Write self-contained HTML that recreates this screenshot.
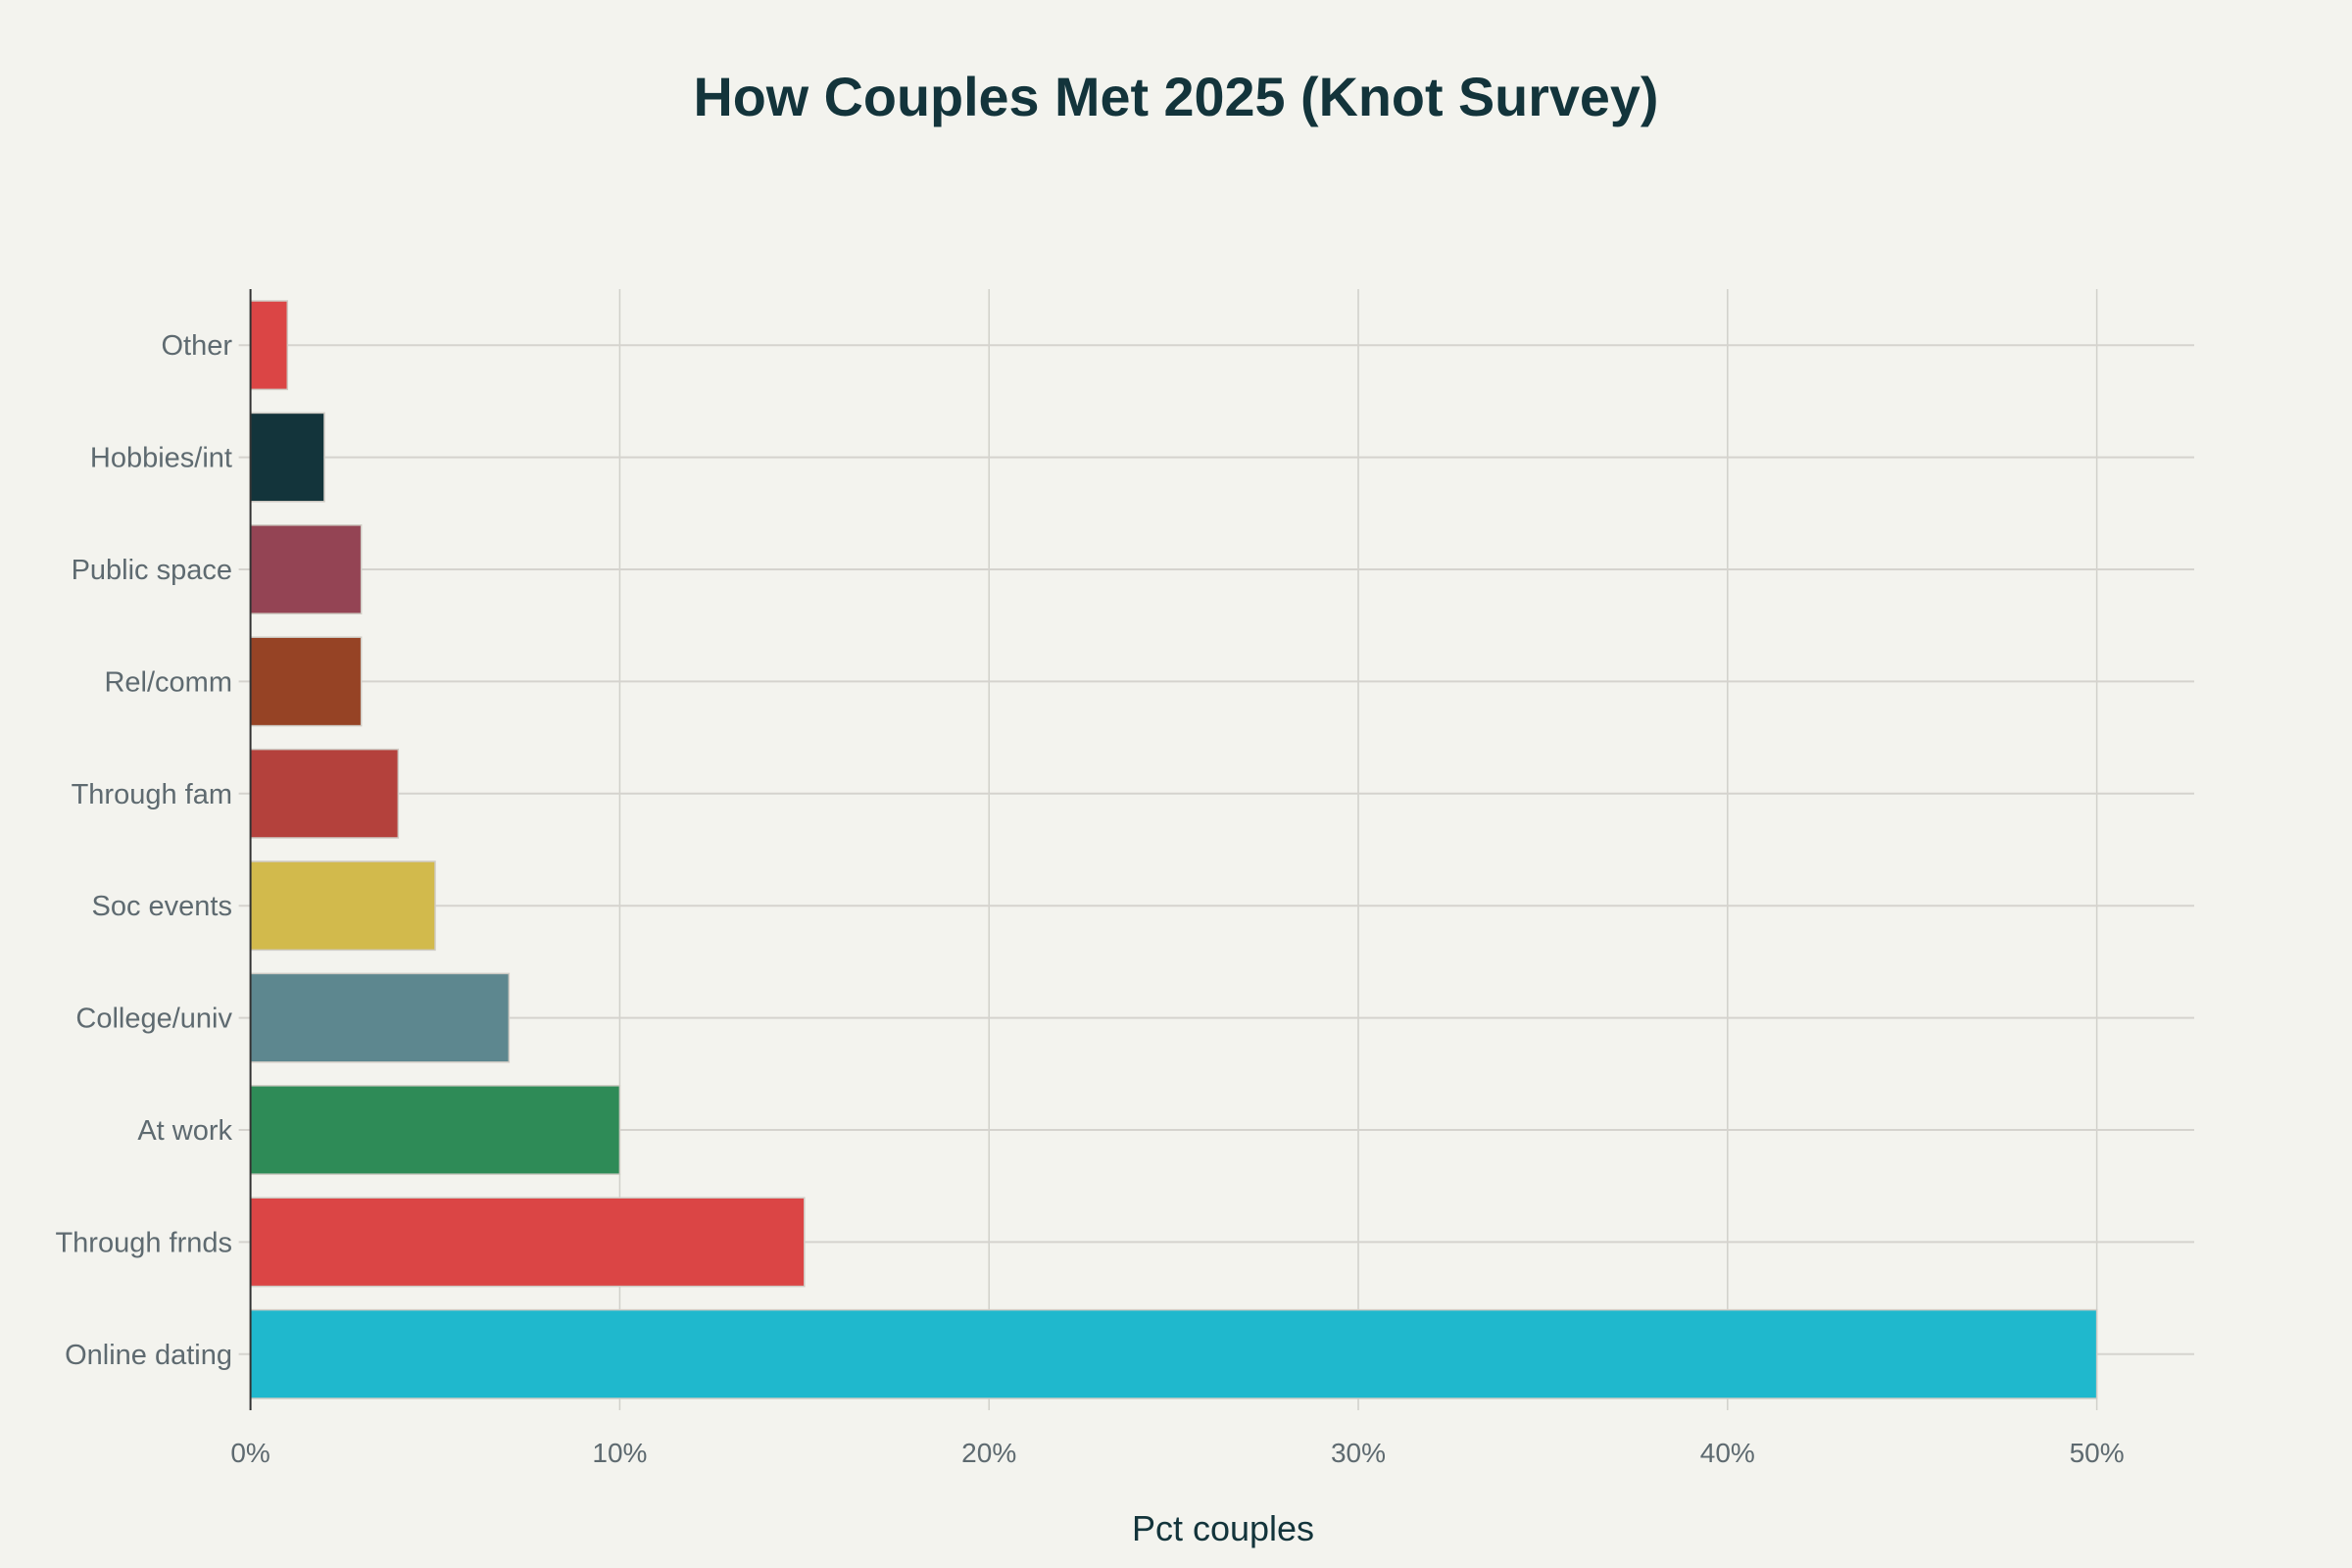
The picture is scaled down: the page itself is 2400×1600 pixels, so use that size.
<!DOCTYPE html>
<html><head><meta charset="utf-8"><style>
html,body{margin:0;padding:0;background:#F3F3EE;}
svg{display:block;font-family:"Liberation Sans",sans-serif;}
</style></head><body>
<svg id="chart" width="2400" height="1600" viewBox="0 0 2400 1600">
<rect x="0" y="0" width="2400" height="1600" fill="#F3F3EE"/>
<text x="1200" y="118" text-anchor="middle" font-size="56" font-weight="bold" fill="#13343B" textLength="985" lengthAdjust="spacingAndGlyphs">How Couples Met 2025 (Knot Survey)</text>
<g id="grid"></g>
<g id="bars"></g>
<g id="ylabels"></g>
<g id="xlabels"></g>
<line x1="255.6" y1="295" x2="255.6" y2="1439" stroke="#333" stroke-width="2"/>
<text x="1248" y="1572" text-anchor="middle" font-size="36" fill="#13343B">Pct couples</text>
</svg>
<script>
const categories = ["Online dating","Through frnds","At work","College/univ","Soc events","Through fam","Rel/comm","Public space","Hobbies/int","Other"];
const values = [50,15,10,7,5,4,3,3,2,1];
const colors = ["#1FB8CD","#DB4545","#2E8B57","#5D878F","#D2BA4C","#B4413C","#964325","#944454","#13343B","#DB4545"];
const xTicks = [0,10,20,30,40,50];
const xTickLabels = ["0%","10%","20%","30%","40%","50%"];

const NS="http://www.w3.org/2000/svg";
const x0=255.6, pxPer=37.68, plotTop=295, plotBottom=1439, gridRight=2239;
const band=(plotBottom-plotTop)/categories.length;
function xs(v){return x0+v*pxPer;}
function yc(i){return plotBottom-band*(i+0.5);}
function mk(tag,attrs,parent){const e=document.createElementNS(NS,tag);for(const k in attrs)e.setAttribute(k,attrs[k]);parent.appendChild(e);return e;}
const grid=document.getElementById('grid'),bars=document.getElementById('bars'),yl=document.getElementById('ylabels'),xl=document.getElementById('xlabels');
xTicks.forEach((t,i)=>{
  const l=mk('line',{x1:xs(t),x2:xs(t),y1:plotTop,y2:plotBottom,stroke:'#D0D0CA','stroke-width':1.5},grid);
  
  
  const tx=mk('text',{x:xs(t),y:1492,'text-anchor':'middle','font-size':28,fill:'#5E6A70'},xl);
  tx.textContent=xTickLabels[i];
  
  
});
categories.forEach((c,i)=>{
  const y=yc(i);
  const g=mk('line',{x1:x0-12,x2:gridRight,y1:y,y2:y,stroke:'#D5D3CE','stroke-width':2},grid);
  
  
  const h=band*0.79;
  const r=mk('rect',{x:x0,y:y-h/2,width:xs(values[i])-x0,height:h,fill:colors[i],stroke:'#CFCBC4','stroke-width':1.5},bars);
  
  
  const t=mk('text',{x:237,y:y+10,'text-anchor':'end','font-size':29,fill:'#5E6A70'},yl);
  t.textContent=c;
  
  
});
</script>
</body></html>
